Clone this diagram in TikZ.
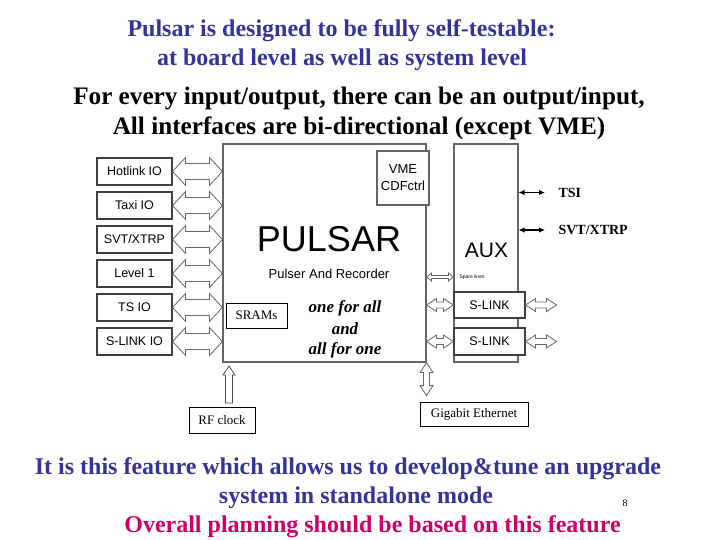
\documentclass[tikz,border=0pt]{standalone}
\usepackage{fontspec}
\setmainfont{Liberation Serif}
\setsansfont{Liberation Sans}
\usetikzlibrary{calc,arrows.meta}
\definecolor{slideblue}{RGB}{51,51,153}
\definecolor{slidered}{RGB}{204,0,102}

\begin{document}
\begin{tikzpicture}[
  x=1pt,
  y=-1pt,
  headline/.style={font=\bfseries\fontsize{24}{28}\selectfont, text=slideblue},
  statement/.style={font=\bfseries\fontsize{25.2}{28}\selectfont},
  iobox/.style={draw=black!75, line width=1.1pt, minimum width=75pt, minimum height=27pt,
    inner sep=0pt, font=\sffamily\fontsize{12.5}{14}\selectfont},
  board/.style={draw=black!60, line width=1.1pt, inner sep=0pt},
  linkbox/.style={draw=black!75, fill=white, line width=1.1pt, minimum width=71pt,
    minimum height=26pt, inner sep=0pt, font=\sffamily\fontsize{12.5}{14}\selectfont},
  tagbox/.style={draw=black, line width=0.8pt, inner sep=0pt, font=\fontsize{13}{15}\selectfont},
  motto/.style={font=\bfseries\itshape\fontsize{17}{19}\selectfont},
  fatarrow/.style n args={3}{draw=black!60, line width=0.8pt, fill=white,
    to path={(\tikztostart)
      -- ($(\tikztostart)!#1!(\tikztotarget)!#2!90:(\tikztotarget)$)
      -- ($(\tikztostart)!#1!(\tikztotarget)!#3!90:(\tikztotarget)$)
      -- ($(\tikztotarget)!#1!(\tikztostart)!#3!-90:(\tikztostart)$)
      -- ($(\tikztotarget)!#1!(\tikztostart)!#2!-90:(\tikztostart)$)
      -- (\tikztotarget)
      -- ($(\tikztotarget)!#1!(\tikztostart)!#2!90:(\tikztostart)$)
      -- ($(\tikztotarget)!#1!(\tikztostart)!#3!90:(\tikztostart)$)
      -- ($(\tikztostart)!#1!(\tikztotarget)!#3!-90:(\tikztotarget)$)
      -- ($(\tikztostart)!#1!(\tikztotarget)!#2!-90:(\tikztotarget)$)
      -- cycle}},
  fatsingle/.style n args={3}{draw=black!70, line width=0.8pt, fill=white,
    to path={(\tikztotarget)
      -- ($(\tikztotarget)!#1!(\tikztostart)!#2!90:(\tikztostart)$)
      -- ($(\tikztotarget)!#1!(\tikztostart)!#3!90:(\tikztostart)$)
      -- ($(\tikztostart)!#3!-90:(\tikztotarget)$)
      -- ($(\tikztostart)!#3!90:(\tikztotarget)$)
      -- ($(\tikztotarget)!#1!(\tikztostart)!#3!-90:(\tikztostart)$)
      -- ($(\tikztotarget)!#1!(\tikztostart)!#2!-90:(\tikztostart)$)
      -- cycle}},
  thinlink/.style={line width=1.6pt, {Latex[length=6pt,width=5.5pt]}-{Latex[length=6pt,width=5.5pt]}},
]
  \useasboundingbox (0,0) rectangle (720,540);

  % headlines
  \node[headline] (head1) at (341.5,31) {Pulsar is designed to be fully self-testable:};
  \node[headline] (head2) at (342,60) {at board level as well as system level};
  \node[statement] (stat1) at (359,98) {For every input/output, there can be an output/input,};
  \node[statement] (stat2) at (359,128) {All interfaces are bi-directional (except VME)};

  % boards
  \node[board, minimum width=203pt, minimum height=218pt] (pulsar) at (324.5,253) {};
  \node[board, minimum width=64pt, minimum height=218pt] (aux) at (486,253) {};
  \node[font=\sffamily\fontsize{36}{40}\selectfont] (pulsarname) at (329,239) {PULSAR};
  \node[font=\sffamily\fontsize{13}{15}\selectfont] (pulsarsub) at (329,274) {Pulser And Recorder};
  \node[font=\sffamily\fontsize{21}{24}\selectfont] (auxname) at (486.5,250) {AUX};
  \node[draw=black!60, line width=1.1pt, fill=white, minimum width=52pt, minimum height=54pt,
    inner sep=0pt, align=center, font=\sffamily\fontsize{13}{17}\selectfont] (vme) at (403,178) {VME\\CDFctrl};
  \node[font=\sffamily\fontsize{5}{6}\selectfont, anchor=west] (spare) at (456,277) {Spare lines};

  % IO boxes on the left
  \foreach \name/\txt [count=\i from 0] in {hot/Hotlink IO, taxi/Taxi IO, svt/{SVT/XTRP},
      lvl/Level 1, tsio/TS IO, slio/S-LINK IO} {
    \node[iobox] (\name) at (134.5,171.5+34*\i) {\txt};
    \coordinate (\name pin) at (pulsar.west |- \name.east);
    \draw[fatarrow={13pt}{14pt}{8pt}] (\name.east) to (\name pin);
  }

  % S-LINK on AUX
  \node[linkbox] (slink1) at (489.5,305) {S-LINK};
  \node[linkbox, minimum height=27pt] (slink2) at (489.5,341.5) {S-LINK};
  \foreach \name in {slink1, slink2} {
    \coordinate (\name pin) at (pulsar.east |- \name.west);
    \coordinate (\name out) at ($(\name.east)+(31,0)$);
    \draw[fatarrow={10pt}{6.5pt}{3pt}] (\name pin) to (\name.west);
    \draw[fatarrow={10pt}{6.5pt}{3pt}] (\name.east) to (\name out);
  }
  \coordinate (sparepin) at ($(pulsar.east)+(0,24)$);
  \draw[fatarrow={5pt}{4pt}{1.5pt}] (sparepin) to (aux.west |- sparepin);

  % lines out of AUX
  \coordinate (tsiend) at (545,192.5);
  \coordinate (svtend) at (545,230);
  \draw[thinlink] (aux.east |- tsiend) to (tsiend);
  \draw[thinlink] (aux.east |- svtend) to (svtend);
  \node[font=\bfseries\fontsize{14}{16}\selectfont, anchor=west] (tsi) at (555,192.5) {TSI};
  \node[font=\bfseries\fontsize{14}{16}\selectfont, anchor=west] (svtx) at (555,230) {SVT/XTRP};

  % inside PULSAR
  \node[tagbox, minimum width=61pt, minimum height=25pt] (sram) at (256.5,315.5) {SRAMs};
  \node[motto] (motto1) at (345,308) {one for all};
  \node[motto] (motto2) at (345,329) {and};
  \node[motto] (motto3) at (345,350) {all for one};

  % clock and ethernet
  \node[tagbox, minimum width=66pt, minimum height=26pt] (rf) at (222,420) {RF clock};
  \node[tagbox, minimum width=108pt, minimum height=24pt] (giga) at (474,414) {Gigabit Ethernet};
  \coordinate (rftail) at (229,403);
  \coordinate (rftip) at (229,366);
  \draw[fatsingle={9pt}{6pt}{3.5pt}] (rftail) to (rftip);
  \coordinate (gigaend) at ($(pulsar.south east |- giga.north)+(0,-6)$);
  \draw[fatarrow={10pt}{6.5pt}{3pt}] (pulsar.south east) to (gigaend);

  % bottom lines
  \node[headline] (foot1) at (348,469) {It is this feature which allows us to develop\&tune an upgrade};
  \node[headline] (foot2) at (356,498) {system in standalone mode};
  \node[font=\fontsize{10}{12}\selectfont] (page) at (625,503) {8};
  \node[headline, text=slidered] (foot3) at (372.5,527) {Overall planning should be based on this feature};
\end{tikzpicture}
\end{document}
